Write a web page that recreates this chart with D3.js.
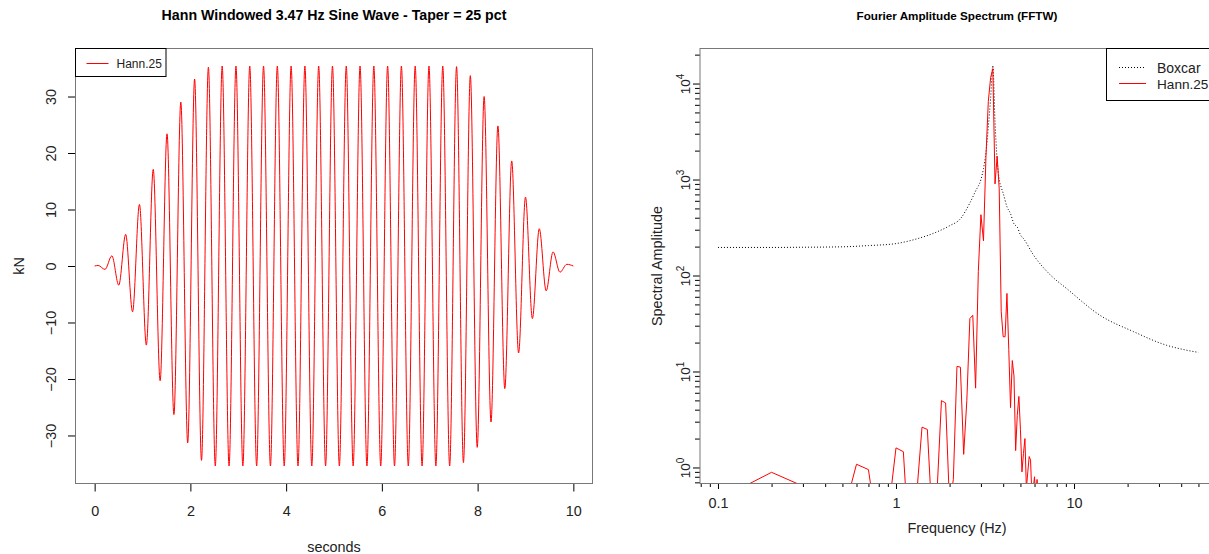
<!DOCTYPE html>
<html><head><meta charset="utf-8">
<script src="https://cdn.jsdelivr.net/npm/d3@7"></script>
<style>
body{margin:0;background:#fff;}
svg{display:block;font-family:"Liberation Sans",Arial,sans-serif;}
</style>
</head><body>
<svg id="chart" width="1209" height="554"></svg>
<script>
// ---------------- DATA ----------------
// Left panel: extrema of the Hann-tapered 3.47 Hz sine (seconds, kN)
const waveSeconds = [0,0.072,0.216,0.360,0.504,0.648,0.792,0.936,1.080,1.224,1.368,1.512,1.656,1.800,1.944,2.088,2.232,2.376,
  2.520,2.664,2.808,2.952,3.096,3.240,3.384,3.528,3.672,3.816,3.960,4.104,4.248,4.392,4.536,4.680,4.824,4.968,5.112,5.256,
  5.400,5.544,5.688,5.832,5.976,6.120,6.264,6.408,6.552,6.696,6.840,6.984,7.128,7.272,7.416,7.560,7.704,7.848,7.992,8.136,
  8.280,8.424,8.568,8.712,8.856,9.000,9.144,9.288,9.432,9.576,9.720,9.864,10.0];
const waveKN = [0,0.1,-0.6,1.8,-3.4,5.6,-8.1,10.9,-14.0,17.1,-20.3,23.4,-26.3,29.0,-31.3,33.1,-34.4,35.2,
  -35.4,35.4,-35.4,35.4,-35.4,35.4,-35.4,35.4,-35.4,35.4,-35.4,35.4,-35.4,35.4,-35.4,35.4,-35.4,35.4,-35.4,35.4,
  -35.4,35.4,-35.4,35.4,-35.4,35.4,-35.4,35.4,-35.4,35.4,-35.4,35.4,-35.4,35.4,-35.4,35.3,-34.8,33.7,-32.1,30.0,
  -27.6,24.8,-21.7,18.6,-15.4,12.2,-9.3,6.6,-4.4,2.5,-1.1,0.3,0];

// Right panel: Fourier amplitude spectra
const hannFreqHz = [0.1,0.2,0.3,0.4,0.5,0.6,0.7,0.8,0.9,1.0,1.1,1.2,1.3,1.4,1.5,1.6,1.7,1.8,1.9,2.0,
  2.1,2.2,2.3,2.4,2.5,2.6,2.7,2.8,2.9,3.0,3.1,3.2,3.3,3.4,3.5,3.6,3.7,3.8,3.9,4.0,
  4.1,4.2,4.3,4.4,4.5,4.6,4.7,4.8,4.9,5.0,5.1,5.2,5.3,5.4,5.5,5.6,5.7,5.8,5.9,6.0,
  6.1,6.2,6.3,6.4,6.5,6.6,6.7,6.8,6.9,7.0];
const hann25Amplitude = [0.46,0.89,0.64,0.2,0.3,1.08,0.95,0.18,0.3,1.6,1.46,0.1,0.46,2.63,2.49,0.26,0.55,4.97,4.7,0.4,
  0.75,11.3,11.1,1.37,5,35.6,38.5,6.7,110,430,230,1700,6500,11500,14300,900,1750,800,42,23,
  23,65,17,4.2,13,9,1.5,3.5,5.5,2.5,0.9,1.4,2.0,0.6,0.9,1.3,1.2,0.5,0.6,0.8,
  0.5,0.75,0.5,0.3,0.6,0.68,0.3,0.2,0.2,0.1];
const boxcarFreqHz = [0.1,0.2,0.3,0.5,0.7,1.0,1.3,1.7,2.0,2.3,2.6,2.8,3.0,3.1,3.2,3.3,3.4,3.5,3.6,3.7,3.8,3.9,4.0,
  4.2,4.4,4.6,4.8,5.0,5.2,5.9,7.3,9.1,14,21.6,33,42,50];
const boxcarAmplitude = [196,196,197,199,205,215,240,285,330,390,570,760,1000,1300,1900,3500,7000,15400,4000,1600,1000,830,720,
  520,440,345,320,265,243,165,103,73,38.5,26,18.8,16.8,15.8];

// Axis ticks / labels
const secondsTicks = [0,2,4,6,8,10];
const kNTicks = [-30,-20,-10,0,10,20,30];
const freqMajorTicks = [0.1,1,10];
const freqTickLabels = ["0.1","1","10"];
const freqMinorTicks = [0.08,0.09,0.2,0.3,0.4,0.5,0.6,0.7,0.8,0.9,2,3,4,5,6,7,8,9,20,30,40,50];
const ampExponents = [0,1,2,3,4];
const ampMinorTicks = [0.7,0.8,0.9,2,3,4,5,6,7,8,9,20,30,40,50,60,70,80,90,200,300,400,500,600,700,800,900,
  2000,3000,4000,5000,6000,7000,8000,9000,20000];

// ---------------- DRAW ----------------
const svg = d3.select("#chart");
const TXT = "#222";
const FS = "14.4px";

// ===== Left panel =====
const L = {x0:75.5, x1:592.5, y0:48.5, y1:483.5};
const xL = d3.scaleLinear().domain([-0.4,10.4]).range([L.x0,L.x1]);
const yL = d3.scaleLinear().domain([-38.5,38.5]).range([L.y1,L.y0]);

svg.append("text").attr("x",334).attr("y",20).attr("text-anchor","middle")
  .attr("font-weight","bold").attr("font-size","14.2px").attr("fill","#000")
  .text("Hann Windowed 3.47 Hz Sine Wave - Taper = 25 pct");

const wave = waveSeconds.map((t,i)=>[t,waveKN[i]]);
svg.append("path").datum(wave)
  .attr("fill","none").attr("stroke","#ff0000").attr("stroke-width",1)
  .attr("d", d3.line().x(d=>xL(d[0])).y(d=>yL(d[1])).curve(d3.curveMonotoneX));

// x axis
const gxL = svg.append("g").attr("transform",`translate(0,${L.y1})`)
  .call(d3.axisBottom(xL).tickValues(secondsTicks).tickSize(8).tickFormat(d3.format("d")));
gxL.select(".domain").remove();
gxL.selectAll("line").attr("stroke","#000");
gxL.selectAll("text").attr("y",32).attr("dy",0).attr("font-size",FS).attr("font-family",null).attr("fill",TXT);

// y axis
const gyL = svg.append("g").attr("transform",`translate(${L.x0},0)`)
  .call(d3.axisLeft(yL).tickValues(kNTicks).tickSize(7.5).tickFormat(d3.format("d")));
gyL.select(".domain").remove();
gyL.selectAll("line").attr("stroke","#000");
gyL.selectAll("text").attr("transform","rotate(-90)").attr("x",0).attr("y",-19.5).attr("dy",0)
  .attr("text-anchor","middle").attr("font-size",FS).attr("font-family",null).attr("fill",TXT);

svg.append("rect").attr("x",L.x0).attr("y",L.y0).attr("width",L.x1-L.x0).attr("height",L.y1-L.y0)
  .attr("fill","none").attr("stroke","#787878").attr("stroke-width",1);

svg.append("text").attr("x",334).attr("y",551.5).attr("text-anchor","middle")
  .attr("font-size",FS).attr("fill",TXT).text("seconds");
svg.append("text").attr("transform","translate(23.5,266) rotate(-90)").attr("text-anchor","middle")
  .attr("font-size",FS).attr("fill",TXT).text("kN");

// legend left
svg.append("rect").attr("x",75.5).attr("y",48.5).attr("width",90.5).attr("height",28)
  .attr("fill","#fff").attr("stroke","#000").attr("stroke-width",1);
svg.append("line").attr("x1",86.5).attr("x2",108.5).attr("y1",63.5).attr("y2",63.5)
  .attr("stroke","#ff0000").attr("stroke-width",1);
svg.append("text").attr("x",116.5).attr("y",67.8).attr("font-size","12px").attr("fill",TXT).text("Hann.25");

// ===== Right panel =====
const R = {x0:700, x1:1217.5, y0:48.5, y1:483.5};
const xR = d3.scaleLog().domain([Math.pow(10,-1.101), Math.pow(10,1.806)]).range([R.x0,R.x1]);
const yR = d3.scaleLog().domain([Math.pow(10,-0.167), Math.pow(10,4.365)]).range([R.y1,R.y0]);

svg.append("text").attr("x",957).attr("y",19.5).attr("text-anchor","middle")
  .attr("font-weight","bold").attr("font-size","11.7px").attr("fill","#000")
  .text("Fourier Amplitude Spectrum (FFTW)");

svg.append("clipPath").attr("id","clipR").append("rect")
  .attr("x",R.x0).attr("y",R.y0).attr("width",R.x1-R.x0).attr("height",R.y1-R.y0);
const plotR = svg.append("g").attr("clip-path","url(#clipR)");

const box = boxcarFreqHz.map((f,i)=>[f,boxcarAmplitude[i]]);
plotR.append("path").datum(box)
  .attr("fill","none").attr("stroke","#000").attr("stroke-width",1).attr("stroke-dasharray","1,2")
  .attr("d", d3.line().x(d=>xR(d[0])).y(d=>yR(d[1])).curve(d3.curveMonotoneX));

const hann = hannFreqHz.map((f,i)=>[f,hann25Amplitude[i]]);
plotR.append("path").datum(hann)
  .attr("fill","none").attr("stroke","#ff0000").attr("stroke-width",1)
  .attr("d", d3.line().x(d=>xR(d[0])).y(d=>yR(d[1])));

// x axis (log)
const gxR = svg.append("g").attr("transform",`translate(0,${R.y1})`)
  .call(d3.axisBottom(xR).tickValues(freqMajorTicks).tickSize(5.5)
    .tickFormat((d,i)=>freqTickLabels[i]));
gxR.select(".domain").remove();
gxR.selectAll("line").attr("stroke","#000");
gxR.selectAll("text").attr("y",24.5).attr("dy",0).attr("font-size",FS).attr("font-family",null).attr("fill",TXT);
const gxRm = svg.append("g").attr("transform",`translate(0,${R.y1})`)
  .call(d3.axisBottom(xR).tickValues(freqMinorTicks).tickSize(3.5).tickFormat(""));
gxRm.select(".domain").remove();
gxRm.selectAll("line").attr("stroke","#000");

// y axis (log)
const gyR = svg.append("g").attr("transform",`translate(${R.x0},0)`)
  .call(d3.axisLeft(yR).tickValues(ampExponents.map(e=>Math.pow(10,e))).tickSize(7).tickFormat(""));
gyR.select(".domain").remove();
gyR.selectAll("line").attr("stroke","#000");
gyR.selectAll(".tick").each(function(d,i){
  const t = d3.select(this).select("text");
  t.attr("transform","rotate(-90)").attr("x",0).attr("y",-10).attr("dy",0)
   .attr("text-anchor","middle").attr("font-size","13.5px").attr("font-family",null).attr("fill",TXT);
  t.append("tspan").text("10");
  t.append("tspan").attr("dy",-6).attr("font-size","10px").text(String(ampExponents[i]));
});
const gyRm = svg.append("g").attr("transform",`translate(${R.x0},0)`)
  .call(d3.axisLeft(yR).tickValues(ampMinorTicks).tickSize(5).tickFormat(""));
gyRm.select(".domain").remove();
gyRm.selectAll("line").attr("stroke","#000");

svg.append("rect").attr("x",R.x0).attr("y",R.y0).attr("width",R.x1-R.x0).attr("height",R.y1-R.y0)
  .attr("fill","none").attr("stroke","#787878").attr("stroke-width",1);

svg.append("text").attr("x",957).attr("y",532.5).attr("text-anchor","middle")
  .attr("font-size",FS).attr("fill",TXT).text("Frequency (Hz)");
svg.append("text").attr("transform","translate(662,266) rotate(-90)").attr("text-anchor","middle")
  .attr("font-size",FS).attr("fill",TXT).text("Spectral Amplitude");

// legend right
svg.append("rect").attr("x",1106.5).attr("y",48.5).attr("width",130).attr("height",52)
  .attr("fill","#fff").attr("stroke","#000").attr("stroke-width",1);
svg.append("line").attr("x1",1119).attr("x2",1146).attr("y1",67.5).attr("y2",67.5)
  .attr("stroke","#000").attr("stroke-width",1).attr("stroke-dasharray","1,2");
svg.append("line").attr("x1",1119).attr("x2",1146).attr("y1",83.5).attr("y2",83.5)
  .attr("stroke","#ff0000").attr("stroke-width",1);
svg.append("text").attr("x",1157).attr("y",72.5).attr("font-size","14px").attr("fill",TXT).text("Boxcar");
svg.append("text").attr("x",1157).attr("y",88.5).attr("font-size","13.6px").attr("fill",TXT).text("Hann.25");
</script>
</body></html>
